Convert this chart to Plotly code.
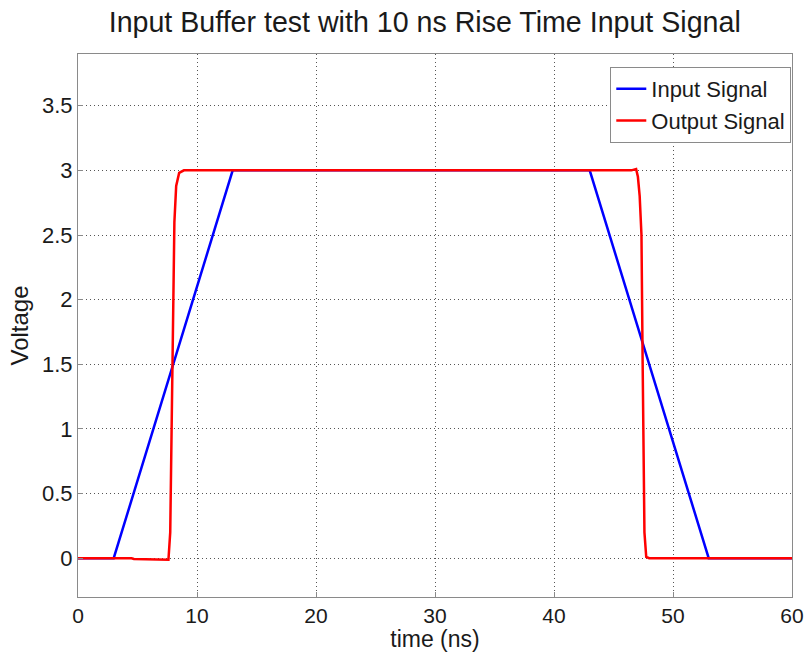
import plotly.graph_objects as go

# Data
in_t = [0, 3, 13, 43, 53, 60]
in_v = [0, 0, 3, 3, 0, 0]

out_t = [0, 4.5, 4.7, 7.5, 7.6, 7.75, 7.85, 7.95, 8.05, 8.1, 8.25, 8.5, 8.9,
         46.5, 46.9, 47.05, 47.2, 47.35, 47.45, 47.52, 47.6, 47.75, 48.0, 60]
out_v = [0, 0, -0.006, -0.01, -0.012, 0.2, 0.8, 1.5, 2.3, 2.6, 2.88, 2.98, 3.0,
         3.0, 3.01, 2.95, 2.8, 2.5, 1.5, 0.5, 0.2, 0.01, 0, 0]

x_ticks = [0, 10, 20, 30, 40, 50, 60]
y_ticks = [0, 0.5, 1, 1.5, 2, 2.5, 3, 3.5]
y_labels = ["0", "0.5", "1", "1.5", "2", "2.5", "3", "3.5"]

FONT = "Liberation Sans, Arial"
TXT = "#1a1a1a"

fig = go.Figure()
fig.add_trace(go.Scatter(x=in_t, y=in_v, mode="lines", name="Input Signal",
                         line=dict(color="#0000FF", width=2.5)))
fig.add_trace(go.Scatter(x=out_t, y=out_v, mode="lines", name="Output Signal",
                         line=dict(color="#FF0000", width=2.5)))

axis_common = dict(
    showline=True, linecolor="#8a8a8a", linewidth=1, mirror=True,
    showgrid=True, gridcolor="#555555", griddash="1px,3px", gridwidth=1,
    ticks="inside", ticklen=5, tickcolor="#8a8a8a",
    zeroline=False, automargin=False,
)

fig.update_layout(
    width=809, height=652,
    margin=dict(l=78, r=17, t=54, b=55),
    paper_bgcolor="white", plot_bgcolor="white",
    title=dict(text="Input Buffer test with 10 ns Rise Time Input Signal",
               x=0.525, xanchor="center", y=0.966, yanchor="middle",
               font=dict(family=FONT, size=28.6, color=TXT)),
    xaxis=dict(range=[0, 60], tickvals=x_ticks,
               tickfont=dict(family=FONT, size=21, color=TXT),
               title=dict(text="time (ns)", standoff=5,
                          font=dict(family=FONT, size=23, color=TXT)),
               **axis_common),
    yaxis=dict(range=[-0.3, 3.9], tickvals=y_ticks, ticktext=y_labels,
               tickfont=dict(family=FONT, size=22, color=TXT),
               title=dict(text="Voltage", standoff=6,
                          font=dict(family=FONT, size=24, color=TXT)),
               **axis_common),
    legend=dict(x=0.999, xanchor="right", y=0.976, yanchor="top",
                bgcolor="white", bordercolor="#8a8a8a", borderwidth=1,
                font=dict(family=FONT, size=22, color=TXT),
                tracegroupgap=0),
    showlegend=True,
)

fig.write_html("out.html")
